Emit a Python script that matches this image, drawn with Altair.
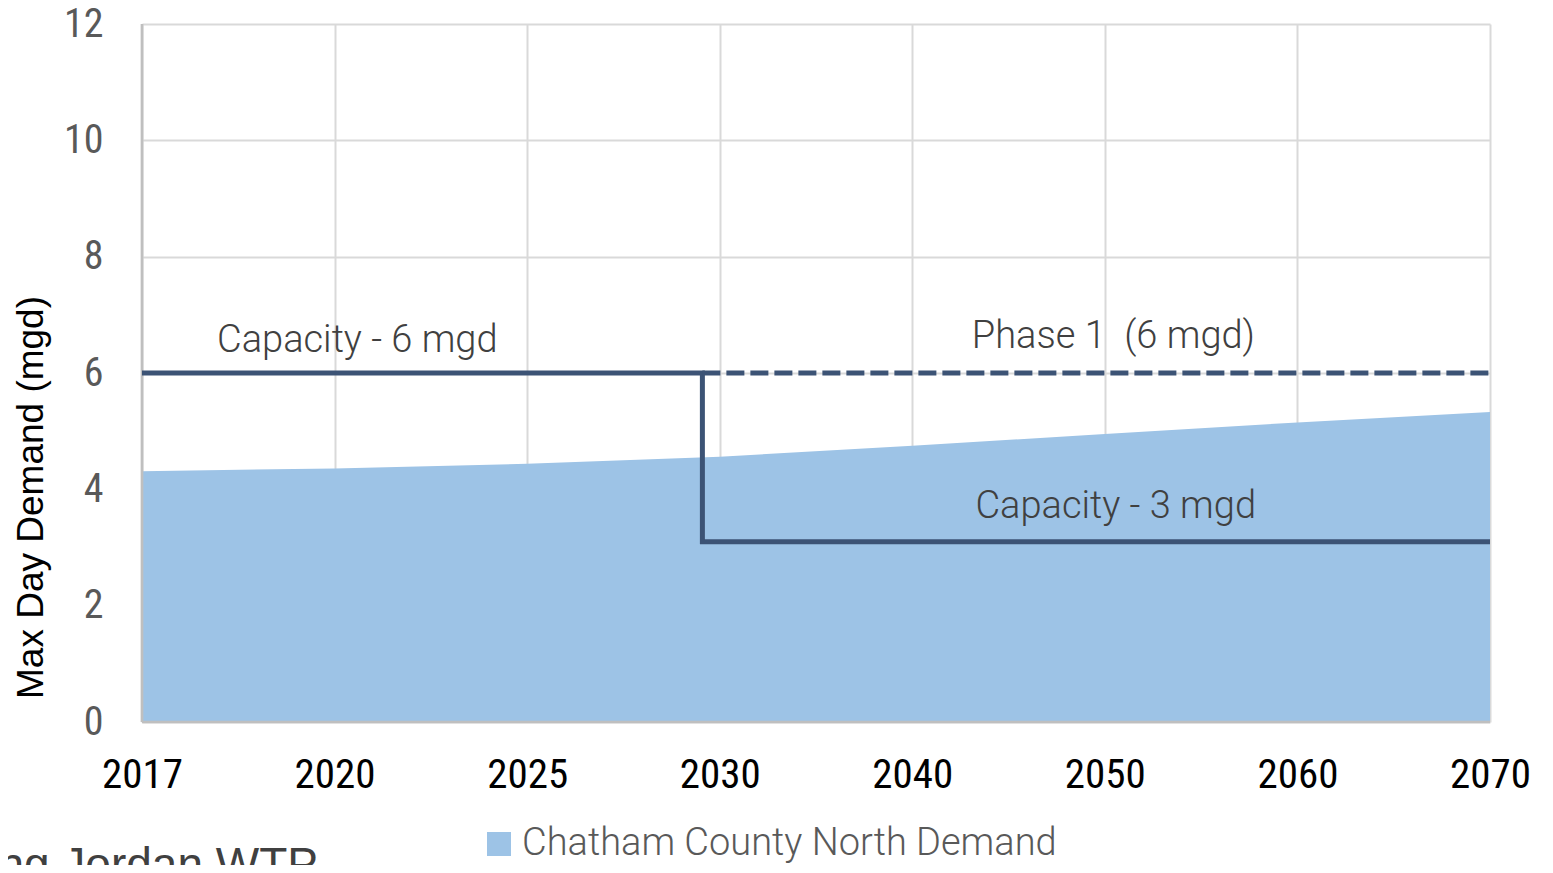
import altair as alt
import pandas as pd

# ---- data ----
years = ["2017", "2020", "2025", "2030", "2040", "2050", "2060", "2070"]
year_idx = [0, 1, 2, 3, 4, 5, 6, 7]
demand = [4.31, 4.36, 4.44, 4.56, 4.75, 4.95, 5.15, 5.33]
series_name = "Chatham County North Demand"

cap_x = [0, 2.91, 2.91, 7]
cap_y = [6, 6, 3.1, 3.1]
cap_order = [0, 1, 2, 3]

phase_x = [2.91, 7]
phase_y = [6, 6]

y_ticks = [0, 2, 4, 6, 8, 10, 12]

label_cap6 = "Capacity - 6 mgd"
label_phase = "Phase 1\u00a0 (6 mgd)"
label_cap3 = "Capacity - 3 mgd"
slide_title = "ng Jordan WTP"

# ---- styling ----
AREA = "#9DC3E6"
LINE = "#3C5375"
GRID = "#D9D9D9"
AXLINE = "#BFBFBF"
TXT = "#404040"
SANS = "Liberation Sans"
LIGHT = "Roboto, Liberation Sans, sans-serif"
TICKFONT = "Roboto Condensed, Liberation Sans Narrow, Liberation Sans, sans-serif"

xs = alt.Scale(domain=[0, 7], nice=False, zero=False)
ys = alt.Scale(domain=[0, 12], nice=False, zero=True)

label_expr = "[" + ",".join("'%s'" % y for y in years) + "][datum.value]"

x_axis = alt.Axis(
    values=year_idx, labelExpr=label_expr,
    domain=False, ticks=False, tickSize=0, grid=True, gridColor=GRID, gridWidth=2,
    labelFont=TICKFONT, labelFontSize=41, labelColor="#000000", labelPadding=33,
    labelFlush=False, labelOverlap=False, labelBound=False)
y_axis = alt.Axis(
    values=y_ticks, format="d",
    domain=False, ticks=False, tickSize=0, grid=True, gridColor=GRID, gridWidth=2,
    labelFont=TICKFONT, labelFontSize=40, labelColor="#595959", labelPadding=39,
    titleFont=SANS, titleFontSize=37, titleFontWeight="normal", titleColor="#000000",
    titleAngle=270, titleX=-111, titleY=473, titleAlign="center", titleBaseline="middle")
Y_TITLE = "Max Day Demand (mgd)"


def X(field):
    return alt.X(field, scale=xs, axis=x_axis, title=None)


def Y(field):
    return alt.Y(field, scale=ys, axis=y_axis, title=Y_TITLE)


area_df = pd.DataFrame({"x": year_idx, "y": demand, "series": [series_name] * len(year_idx)})
cap_df = pd.DataFrame({"x": cap_x, "y": cap_y, "o": cap_order})
phase_df = pd.DataFrame({"x": phase_x, "y": phase_y})

area = alt.Chart(area_df).mark_area(opacity=1).encode(
    x=X("x:Q"),
    y=Y("y:Q"),
    color=alt.Color("series:N", scale=alt.Scale(range=[AREA]), legend=alt.Legend(
        title=None, orient="none", legendX=338, legendY=801,
        symbolType="square", symbolSize=576, symbolStrokeWidth=0, symbolOpacity=1,
        labelFont=LIGHT, labelFontWeight=300, labelFontSize=38, labelColor="#595959", labelOffset=4,
        labelLimit=1000, padding=0)),
)

axis_bottom = alt.Chart(pd.DataFrame({"a": [0]})).mark_rule(color=AXLINE, strokeWidth=2.7).encode(
    x=alt.datum(0), x2=alt.datum(7), y=alt.datum(0))
axis_left = alt.Chart(pd.DataFrame({"a": [0]})).mark_rule(color=AXLINE, strokeWidth=2.7).encode(
    x=alt.datum(0), y=alt.datum(0), y2=alt.datum(12))

cap_line = alt.Chart(cap_df).mark_line(color=LINE, strokeWidth=5, strokeJoin="miter", strokeCap="butt").encode(
    x=X("x:Q"), y=Y("y:Q"), order="o:Q")

phase_line = alt.Chart(phase_df).mark_line(color=LINE, strokeWidth=5, strokeDash=[18, 6], strokeCap="butt").encode(
    x=X("x:Q"), y=Y("y:Q"))


def annot(text, x_anchor, y_anchor, align, dx, dy):
    return alt.Chart(pd.DataFrame({"t": [text]})).mark_text(
        align=align, baseline="alphabetic", dx=dx, dy=dy,
        font=LIGHT, fontWeight=300, fontSize=38, color=TXT).encode(
        x=alt.datum(x_anchor), y=alt.datum(y_anchor), text="t:N")


t1 = annot(label_cap6, cap_x[0], cap_y[0], "left", 75, -21)
t2 = annot(label_phase, phase_x[-1], phase_y[-1], "right", -235, -25)
t3 = annot(label_cap3, cap_x[-1], cap_y[-1], "right", -234, -24)

slide = alt.Chart(pd.DataFrame({"t": [slide_title]})).mark_text(
    align="right", baseline="alphabetic", font=SANS, fontSize=46, color=TXT).encode(
    x=alt.value(176), y=alt.value(856), text="t:N")

chart = alt.layer(area, axis_bottom, axis_left, cap_line, phase_line, t1, t2, t3, slide).properties(
    width=1348, height=698,
    autosize=alt.AutoSizeParams(type="none"),
    padding={"left": 134, "top": 16, "right": 55, "bottom": 143},
    background="white",
).configure_view(stroke=None)

chart.save("out.html", embed_options={"renderer": "svg", "actions": False})
